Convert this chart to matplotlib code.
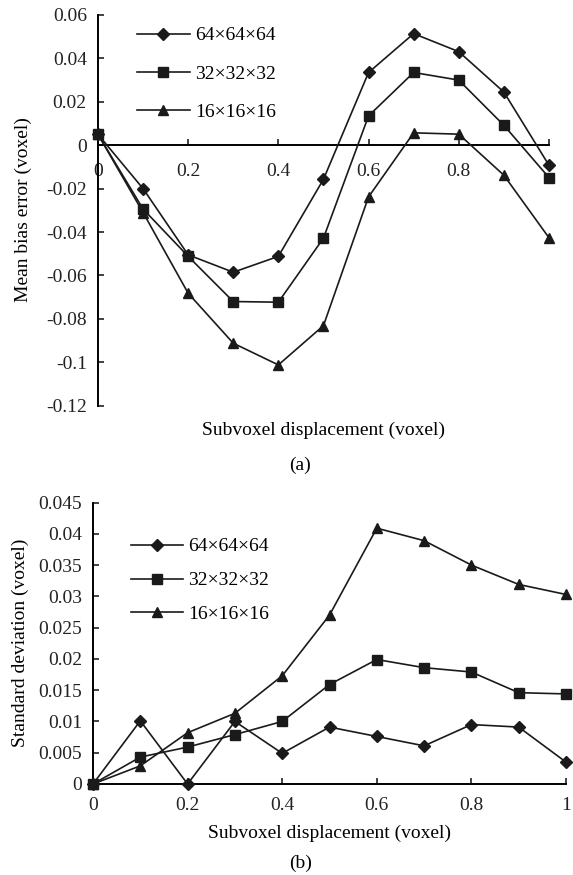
import matplotlib

matplotlib.use("Agg")
import matplotlib.pyplot as plt
import numpy as np
from matplotlib.ticker import FixedLocator, FuncFormatter

plt.rcParams["font.family"] = ["Liberation Serif", "DejaVu Serif"]

# subvoxel displacement (voxel)
displacement = [0.0, 0.1, 0.2, 0.3, 0.4, 0.5, 0.6, 0.7, 0.8, 0.9, 1.0]
series_labels = ["64×64×64", "32×32×32", "16×16×16"]

# (a) mean bias error
bias_64 = [0.005, -0.020, -0.0505, -0.0585, -0.0512, -0.0157, 0.0335, 0.0514, 0.0431, 0.0245, -0.0092]
bias_32 = [0.005, -0.0294, -0.0512, -0.0720, -0.0723, -0.0428, 0.0135, 0.0335, 0.0300, 0.0092, -0.0149]
bias_16 = [0.005, -0.031, -0.0682, -0.0912, -0.1012, -0.0831, -0.0238, 0.0057, 0.0051, -0.0138, -0.0426]

# (b) standard deviation
std_64 = [0.0, 0.0101, 0.0, 0.0100, 0.0049, 0.0091, 0.0076, 0.0061, 0.0095, 0.0091, 0.0035]
std_32 = [0.0, 0.0043, 0.0059, 0.0079, 0.0100, 0.0159, 0.0199, 0.0186, 0.0179, 0.0146, 0.0144]
std_16 = [0.0, 0.0029, 0.0082, 0.0113, 0.0173, 0.0270, 0.0409, 0.0389, 0.0350, 0.0319, 0.0303]

xticks = [0.0, 0.2, 0.4, 0.6, 0.8, 1.0]
xticklabels_a = ["0", "0.2", "0.4", "0.6", "0.8", ""]
xticklabels_b = ["0", "0.2", "0.4", "0.6", "0.8", "1"]
yticks_a = [-0.12, -0.10, -0.08, -0.06, -0.04, -0.02, 0.0, 0.02, 0.04, 0.06]
yticks_b = [0.0, 0.005, 0.01, 0.015, 0.02, 0.025, 0.03, 0.035, 0.04, 0.045]

FS = 14
MARKERS = [("D", 6), ("s", 7), ("^", 7.5)]


def fmt(v, _pos=None):
    v = round(v, 4)
    return "0" if v == 0 else f"{v:g}"


def style_axes(ax, label_pad):
    for side in ("top", "right"):
        ax.spines[side].set_visible(False)
    for side in ("left", "bottom"):
        ax.spines[side].set_linewidth(1.4)
    ax.tick_params(direction="in", length=4, width=1.2, labelsize=FS, colors="#222222")
    ax.tick_params(axis="x", pad=label_pad)
    ax.tick_params(axis="y", pad=8)
    ax.yaxis.set_major_formatter(FuncFormatter(fmt))


def draw_series(ax, series):
    for values, label, (mk, ms) in zip(series, series_labels, MARKERS):
        ax.plot(displacement, values, color="#1a1a1a", lw=1.2, marker=mk, ms=ms,
                label=label, clip_on=False, zorder=3)


fig = plt.figure(figsize=(5.73, 8.75), dpi=100)

# ---- (a) mean bias error
ax1 = fig.add_axes([0.171, 0.5363, 0.787, 0.4466])
draw_series(ax1, [bias_64, bias_32, bias_16])
ax1.set_xlim(0, 1)
ax1.set_ylim(-0.12, 0.06)
ax1.spines["bottom"].set_position(("data", 0))
ax1.xaxis.set_major_locator(FixedLocator(xticks))
ax1.set_xticklabels(xticklabels_a)
ax1.yaxis.set_major_locator(FixedLocator(yticks_a))
style_axes(ax1, label_pad=13)
ax1.legend(loc="upper left", bbox_to_anchor=(0.239, 0.9694), bbox_transform=fig.transFigure,
           frameon=False, fontsize=FS, handlelength=2.73, handletextpad=0.26,
           labelspacing=1.07, borderpad=0, borderaxespad=0)

fig.text(0.565, 1 - 430 / 875, "Subvoxel displacement (voxel)", ha="center", va="center", fontsize=FS)
fig.text(0.04, 1 - 210 / 875, "Mean bias error (voxel)", rotation=90, ha="center", va="center", fontsize=FS)
fig.text(0.524, 1 - 465 / 875, "(a)", ha="center", va="center", fontsize=FS)

# ---- (b) standard deviation
ax2 = fig.add_axes([0.1623, 0.104, 0.8255, 0.3217])
draw_series(ax2, [std_64, std_32, std_16])
ax2.set_xlim(0, 1)
ax2.set_ylim(0, 0.045)
ax2.xaxis.set_major_locator(FixedLocator(xticks))
ax2.set_xticklabels(xticklabels_b)
ax2.yaxis.set_major_locator(FixedLocator(yticks_b))
style_axes(ax2, label_pad=9)
ax2.legend(loc="upper left", bbox_to_anchor=(0.2286, 0.3854), bbox_transform=fig.transFigure,
           frameon=False, fontsize=FS, handlelength=2.68, handletextpad=0.26,
           labelspacing=0.84, borderpad=0, borderaxespad=0)

fig.text(0.575, 1 - 833 / 875, "Subvoxel displacement (voxel)", ha="center", va="center", fontsize=FS)
fig.text(0.035, 1 - 643 / 875, "Standard deviation (voxel)", rotation=90, ha="center", va="center", fontsize=FS)
fig.text(0.524, 1 - 863 / 875, "(b)", ha="center", va="center", fontsize=FS)

fig.savefig("out.png", dpi=100)
